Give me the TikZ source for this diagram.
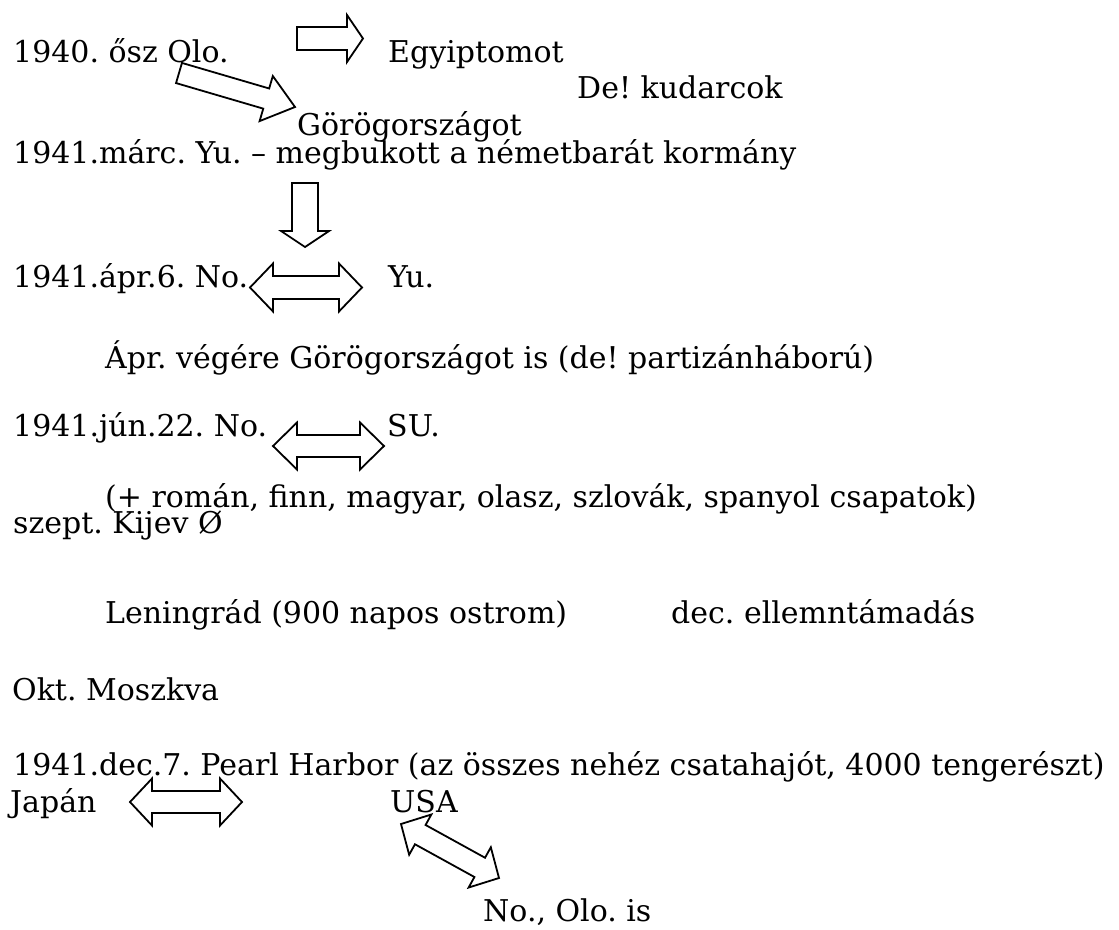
\documentclass[tikz,border=0pt]{standalone}
\usepackage{fontspec}
\setmainfont{DejaVu Serif}
\usetikzlibrary{calc}
\frenchspacing
\newcommand\blkarrow[5]{%
  \coordinate (#1h) at ($(#2)!#5!(#1)$);
  \draw[blk] ($(#1)!#3!90:(#2)$) -- ($(#1h)!#3!90:(#2)$) -- ($(#1h)!#4!90:(#2)$) -- (#2)
    -- ($(#1h)!#4!-90:(#2)$) -- ($(#1h)!#3!-90:(#2)$) -- ($(#1)!#3!-90:(#2)$) -- cycle;}
\newcommand\dblarrow[5]{%
  \coordinate (#1h) at ($(#1)!#5!(#2)$);
  \coordinate (#2h) at ($(#2)!#5!(#1)$);
  \draw[blk] (#1) -- ($(#1h)!#4!90:(#2)$) -- ($(#1h)!#3!90:(#2)$) -- ($(#2h)!#3!90:(#2)$)
    -- ($(#2h)!#4!90:(#2)$) -- (#2) -- ($(#2h)!#4!-90:(#2)$) -- ($(#2h)!#3!-90:(#2)$)
    -- ($(#1h)!#3!-90:(#2)$) -- ($(#1h)!#4!-90:(#2)$) -- cycle;}
\begin{document}
\begin{tikzpicture}[x=1pt,y=-1pt,
  txt/.style={anchor=base west,inner sep=0pt,font=\fontsize{30}{30}\selectfont},
  blk/.style={draw=black,line width=1.8pt,line join=miter,fill=white}]
\useasboundingbox (0,0) rectangle (1119,929);
\node[txt] (t1) at (13,62) {1940. ősz Olo.};
\node[txt] (t2) at (388,62) {Egyiptomot};
\node[txt] (t3) at (577,98) {De! kudarcok};
\node[txt] (t4) at (297,135) {Görögországot};
\node[txt] (t5) at (13,163) {1941.márc. Yu. – megbukott a németbarát kormány};
\node[txt] (t6) at (13,287) {1941.ápr.6. No.};
\node[txt] (t7) at (388,287) {Yu.};
\node[txt] (t8) at (105,368) {Ápr. végére Görögországot is (de! partizánháború)};
\node[txt] (t9) at (13,436) {1941.jún.22. No.};
\node[txt] (t10) at (387,436) {SU.};
\node[txt] (t11) at (105,507) {(+ román, finn, magyar, olasz, szlovák, spanyol csapatok)};
\node[txt] (t12) at (13,533) {szept. Kijev Ø};
\node[txt] (t13) at (105,623) {Leningrád (900 napos ostrom)};
\node[txt] (t14) at (671,623) {dec. ellemntámadás};
\node[txt] (t15) at (12,700) {Okt. Moszkva};
\node[txt] (t16) at (13,775) {1941.dec.7. Pearl Harbor (az összes nehéz csatahajót, 4000 tengerészt)};
\node[txt] (t17) at (10,812) {Japán};
\node[txt] (t18) at (390,812) {USA};
\node[txt] (t19) at (483,921) {No., Olo. is};
% block arrows
\coordinate (aEs) at (297,38.5); \coordinate (aEe) at (363,38.5);
\blkarrow{aEs}{aEe}{11.5pt}{23.5pt}{16pt}
\coordinate (aGs) at (179,73); \coordinate (aGe) at (295,107);
\blkarrow{aGs}{aGe}{10.5pt}{23.5pt}{30pt}
\coordinate (aDs) at (305,183); \coordinate (aDe) at (305,247);
\blkarrow{aDs}{aDe}{13pt}{24pt}{16pt}
\coordinate (aYs) at (250,287.5); \coordinate (aYe) at (362,287.5);
\dblarrow{aYs}{aYe}{11.5pt}{24pt}{23pt}
\coordinate (aSs) at (273,446); \coordinate (aSe) at (384,446);
\dblarrow{aSs}{aSe}{11pt}{23.5pt}{24pt}
\coordinate (aJs) at (130,802); \coordinate (aJe) at (242,802);
\dblarrow{aJs}{aJe}{11pt}{23.5pt}{22pt}
\coordinate (aUs) at (401,824); \coordinate (aUe) at (499,878);
\dblarrow{aUs}{aUe}{11pt}{23pt}{22pt}
\end{tikzpicture}
\end{document}
